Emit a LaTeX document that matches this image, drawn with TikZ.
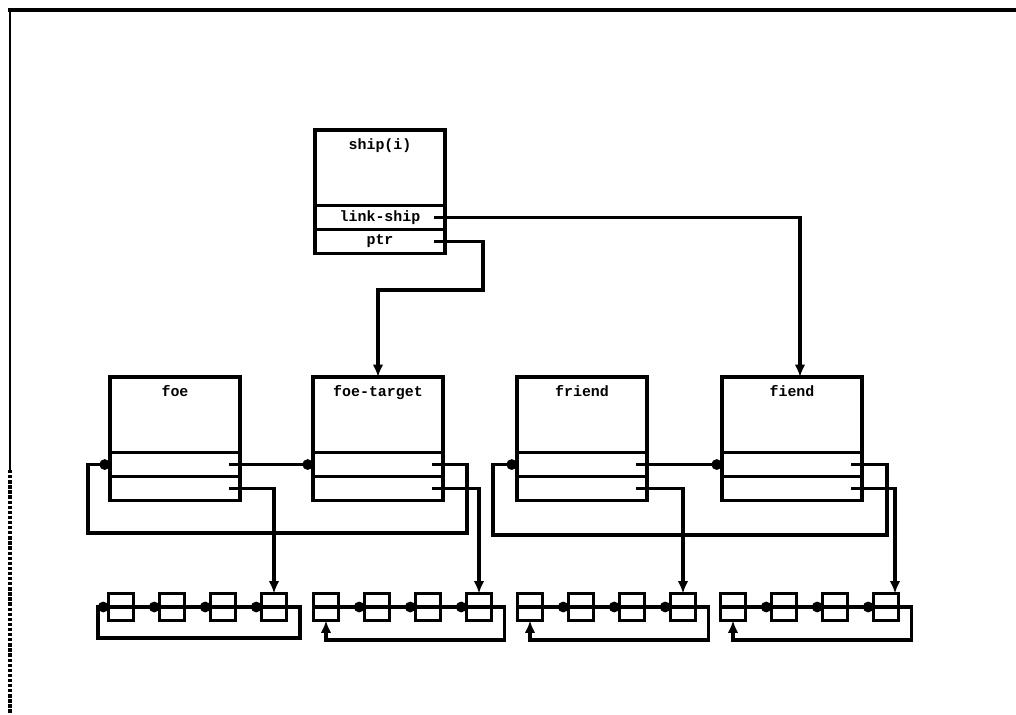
\documentclass[tikz,border=0pt]{standalone}
\usepackage{fontspec}
\setmonofont{Liberation Mono}
\usetikzlibrary{positioning, arrows.meta}

\begin{document}
\begin{tikzpicture}[
  x = 0.02cm, y = -0.02cm,
  line width = 1.9pt,
  titlebox/.style = {
    shape = rectangle,
    draw = black,
    anchor = north,
    minimum width = 2.6cm,
    text height = 6pt,
    text depth = 27pt,
    inner ysep = 5pt,
    outer sep = 0pt,
    font = \ttfamily\bfseries\fontsize{8.5}{10}\selectfont,
  },
  rowbox/.style = {
    shape = rectangle,
    draw = black,
    minimum width = 2.6cm,
    minimum height = 0.48cm,
    inner sep = 0pt,
    outer sep = 0pt,
    font = \ttfamily\bfseries\fontsize{8.5}{10}\selectfont,
  },
  cell/.style = {
    shape = rectangle,
    draw = black,
    minimum width = 0.5cm,
    minimum height = 0.54cm,
    inner sep = 0pt,
    outer sep = 0pt,
  },
  nextlink/.style = {-{Circle[length=6pt]}},
  downlink/.style = {-{Latex[length=7pt, width=6pt]}},
]
  \useasboundingbox (0, 0) rectangle (1016, 715);

  % frame
  \draw[line width = 2.4pt] (8, 10) -- (1016, 10);
  \draw[line width = 1.4pt] (10, 10) -- (10, 470);
  \draw[densely dotted] (10, 470) -- (10, 715);

  % ship record
  \node[titlebox] (ship) at (380, 130) {ship(i)};
  \node[rowbox, below = 0pt of ship] (ship-link) {link-ship};
  \node[rowbox, below = 0pt of ship-link] (ship-ptr) {ptr};

  % records
  \node[titlebox] (foe) at (175, 377) {foe};
  \node[rowbox, below = 0pt of foe] (foe-a) {};
  \node[rowbox, below = 0pt of foe-a] (foe-b) {};

  \node[titlebox] (tgt) at (378, 377) {foe-target};
  \node[rowbox, below = 0pt of tgt] (tgt-a) {};
  \node[rowbox, below = 0pt of tgt-a] (tgt-b) {};

  \node[titlebox] (friend) at (582, 377) {friend};
  \node[rowbox, below = 0pt of friend] (friend-a) {};
  \node[rowbox, below = 0pt of friend-a] (friend-b) {};

  \node[titlebox, minimum width = 2.8cm] (fiend) at (792, 377) {fiend};
  \node[rowbox, minimum width = 2.8cm, below = 0pt of fiend] (fiend-a) {};
  \node[rowbox, minimum width = 2.8cm, below = 0pt of fiend-a] (fiend-b) {};

  % lists
  \foreach \g/\cx in {1/121, 2/326, 3/530, 4/733} {
    \foreach \k in {1, ..., 4} {
      \node[cell] (l\g-\k) at ({\cx + 51 * (\k - 1)}, 607) {};
      \draw (l\g-\k.west) -- (l\g-\k.east);
    }
    \foreach \k/\n in {1/2, 2/3, 3/4}
      \draw[nextlink] (l\g-\k.east) -- (l\g-\n.west);
  }

  \draw[downlink] ([xshift = -6pt]ship-ptr.east) -| (483, 290) -| (tgt.north);
  \draw[downlink] ([xshift = -6pt]ship-link.east) -| ([xshift = 0.16cm]fiend.north);

  \draw[nextlink] ([xshift = -6pt]foe-a.east) -- (tgt-a.west);
  \draw[nextlink] ([xshift = -6pt]tgt-a.east) -| (467, 533) -- (88, 533) |- (foe-a.west);
  \draw[nextlink] ([xshift = -6pt]friend-a.east) -- (fiend-a.west);
  \draw[nextlink] ([xshift = -6pt]fiend-a.east) -| (887, 535) -- (493, 535) |- (friend-a.west);

  \draw[downlink] ([xshift = -6pt]foe-b.east) -| (l1-4.north);
  \draw[downlink] ([xshift = -6pt]tgt-b.east) -| (l2-4.north);
  \draw[downlink] ([xshift = -6pt]friend-b.east) -| (l3-4.north);
  \draw[downlink] ([xshift = -6pt]fiend-b.east) -| ([xshift = -2pt]l4-4.north east);

  \draw[nextlink] (l1-4.east) -| (300, 638) -- (98, 638) |- (l1-1.west);
  \foreach \g in {2, 3, 4}
    \draw[downlink] (l\g-4.east) -| ([xshift = 0.26cm, yshift = -0.66cm]l\g-4.east) -| (l\g-1.south);
\end{tikzpicture}
\end{document}
